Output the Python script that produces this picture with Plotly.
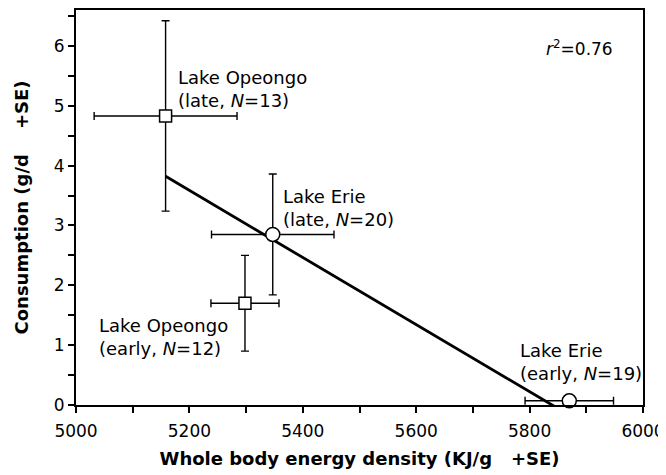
import numpy as np
import plotly.graph_objects as go

# ---- data ----
sites = ["Lake Opeongo", "Lake Erie", "Lake Opeongo", "Lake Erie"]
periods = ["late", "late", "early", "early"]
sample_n = [13, 20, 12, 19]
energy_density = [5158, 5347, 5298, 5870]      # KJ/g
energy_se = [126, 108, 60, 78]
consumption = [4.83, 2.85, 1.70, 0.07]         # g/d
consumption_se = [1.59, 1.01, 0.80, 0.0]
r2_text = "0.76"

x_ticks = [5000, 5200, 5400, 5600, 5800, 6000]
y_ticks = [0, 1, 2, 3, 4, 5, 6]

# label placement (data units, left edge / vertical middle)
label_x = [5176, 5361, 5037, 5779]
label_y = [5.28, 3.30, 1.13, 0.72]

FONT = "DejaVu Sans"

fig = go.Figure()

# regression line (least squares through the four means)
slope, intercept = np.polyfit(energy_density, consumption, 1)
xl = np.array([min(energy_density), max(energy_density)])
fig.add_trace(go.Scatter(
    x=xl, y=slope * xl + intercept, mode="lines",
    line=dict(color="black", width=2.8), hoverinfo="skip", showlegend=False,
))

# error bars (drawn beneath the markers)
fig.add_trace(go.Scatter(
    x=energy_density, y=consumption, mode="markers",
    marker=dict(size=1, color="rgba(0,0,0,0)"),
    error_x=dict(type="data", array=energy_se, color="black", thickness=1.4, width=4),
    error_y=dict(type="data", array=consumption_se, color="black", thickness=1.4, width=4),
    cliponaxis=False, showlegend=False, hoverinfo="skip",
))

symbols = ["square" if s == "Lake Opeongo" else "circle" for s in sites]
sizes = [12 if s == "Lake Opeongo" else 14 for s in sites]

fig.add_trace(go.Scatter(
    x=energy_density, y=consumption, mode="markers",
    marker=dict(symbol=symbols, size=sizes, color="white", opacity=1,
                line=dict(color="black", width=1.5)),
    cliponaxis=False, showlegend=False,
))

for s, p, n, lx, ly in zip(sites, periods, sample_n, label_x, label_y):
    fig.add_annotation(
        x=lx, y=ly, xref="x", yref="y", xanchor="left", yanchor="middle",
        text=f"{s}<br>({p}, <i>N</i>={n})", showarrow=False, align="left",
        font=dict(family=FONT, size=18, color="black"),
    )

fig.add_annotation(
    x=5826, y=5.97, xref="x", yref="y", xanchor="left", yanchor="middle",
    text=f"<i>r</i><sup>2</sup>={r2_text}", showarrow=False,
    font=dict(family=FONT, size=17, color="black"),
)

nb = "\u00a0"
# the page adds an 8px body margin, so the figure is sized to fit the window
fig.update_layout(
    width=658, height=467,
    margin=dict(l=68, r=23, t=2, b=70),
    paper_bgcolor="white", plot_bgcolor="white",
    font=dict(family=FONT, size=17, color="black"),
    xaxis=dict(
        range=[5000, 6000], tickvals=x_ticks, ticks="outside", ticklen=6,
        tickwidth=1.5, tickcolor="black", showline=True, linewidth=2,
        linecolor="black", mirror=True, showgrid=False, zeroline=False,
        automargin=False, ticklabelstandoff=4,
        minor=dict(dtick=100, ticks="outside", ticklen=6, tickwidth=1.5, tickcolor="black"),
        tickfont=dict(family=FONT, size=17),
        title=dict(text=f"<b>Whole body energy density (KJ/g{nb*3}+SE)</b>",
                   font=dict(family=FONT, size=18), standoff=12),
    ),
    yaxis=dict(
        range=[0, 6.6], tickvals=y_ticks, ticks="outside", ticklen=6,
        tickwidth=1.5, tickcolor="black", showline=True, linewidth=2,
        linecolor="black", mirror=True, showgrid=False, zeroline=False,
        automargin=False,
        minor=dict(dtick=0.5, ticks="outside", ticklen=6, tickwidth=1.5, tickcolor="black"),
        tickfont=dict(family=FONT, size=17),
        title=dict(text=f"<b>Consumption (g/d{nb*4}+SE)</b>",
                   font=dict(family=FONT, size=18), standoff=20),
    ),
)

fig.write_html("out.html")
